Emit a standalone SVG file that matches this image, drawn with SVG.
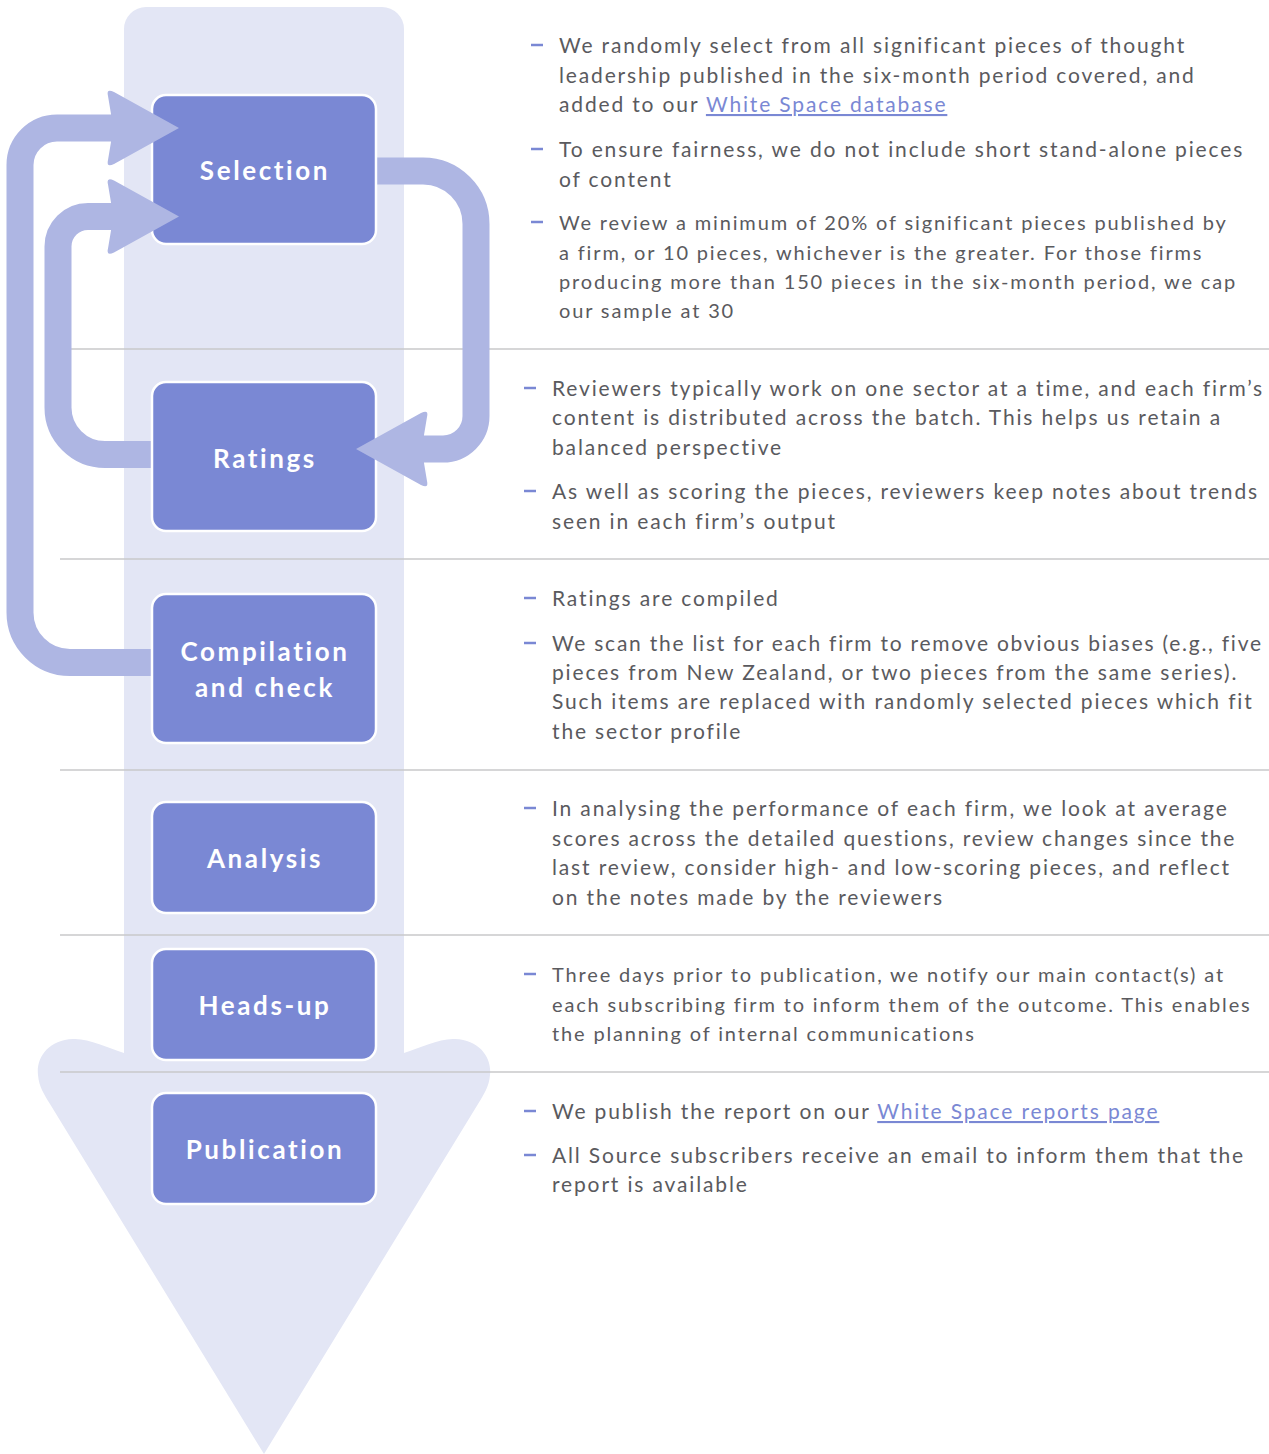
<svg xmlns="http://www.w3.org/2000/svg" xmlns:xlink="http://www.w3.org/1999/xlink" width="1269" height="1454" viewBox="0 0 1269 1454">
<style>
.col{fill:#E3E6F5}
.sep{stroke:#C8C8CA;stroke-width:1.5;fill:none}
.conn{fill:none;stroke:#AEB6E3;stroke-width:27}
.ah{fill:#AEB6E3}
.box{fill:#7A88D4;stroke:#FFFFFF;stroke-width:2.5}
.lbl{font-family:Lato,"Liberation Sans",sans-serif;font-weight:700;font-size:26px;letter-spacing:2.6px;fill:#FFFFFF;text-anchor:middle}
.txt{font-family:Lato,"Liberation Sans",sans-serif;font-size:21px;letter-spacing:1.85px;fill:#5A5A5E}
.sm{font-size:20px}
.lnk{fill:#7A88D4;text-decoration:underline}
.dash{stroke:#7A88D4;stroke-width:2.5}
</style>
<defs>
<path id="arrowhead" d="M0 0 L-65 -36 Q-73 -40 -71 -32 L-68 -14 L-68 14 L-71 32 Q-73 40 -65 36 Z"/>
</defs>
<rect width="1269" height="1454" fill="#FFFFFF"/>
<g id="background">
<path class="col" d="M124 1053 V29 A22 22 0 0 1 146 7 H382 A22 22 0 0 1 404 29 V1053 C420 1048 440 1038 455 1039 C480 1040 492 1058 490 1075 C489 1087 484 1094 478 1104 L264 1454 L50 1104 C44 1094 39 1087 38 1075 C36 1058 48 1040 73 1039 C88 1038 108 1048 124 1053 Z"/>
</g>
<g id="separators">
<line class="sep" x1="60" y1="349" x2="1269" y2="349"/>
<line class="sep" x1="60" y1="559" x2="1269" y2="559"/>
<line class="sep" x1="60" y1="770" x2="1269" y2="770"/>
<line class="sep" x1="60" y1="935" x2="1269" y2="935"/>
<line class="sep" x1="60" y1="1072" x2="1269" y2="1072"/>
</g>
<g id="node-selection">
<rect class="box" x="152" y="95" width="224" height="149" rx="14"/>
<text class="lbl" x="265" y="180">Selection</text>
</g>
<g id="node-ratings">
<rect class="box" x="152" y="382" width="224" height="149" rx="14"/>
<text class="lbl" x="265" y="468">Ratings</text>
</g>
<g id="node-compilation">
<rect class="box" x="152" y="594" width="224" height="149" rx="14"/>
<text class="lbl" x="265" y="661">Compilation</text>
<text class="lbl" x="265" y="697">and check</text>
</g>
<g id="node-analysis">
<rect class="box" x="152" y="802" width="224" height="111" rx="14"/>
<text class="lbl" x="265" y="868">Analysis</text>
</g>
<g id="node-headsup">
<rect class="box" x="152" y="949" width="224" height="111" rx="14"/>
<text class="lbl" x="265" y="1015">Heads-up</text>
</g>
<g id="node-publication">
<rect class="box" x="152" y="1093" width="224" height="111" rx="14"/>
<text class="lbl" x="265" y="1159">Publication</text>
</g>
<g id="connectors">
<path class="conn" d="M377.3 171 H423 A53 53 0 0 1 476 224 V416 A33 33 0 0 1 443 449 H420"/>
<use href="#arrowhead" class="ah" transform="translate(356 449) rotate(180)"/>
<path class="conn" d="M150.7 454.5 H105 A47 47 0 0 1 58 407.5 V246.5 A30 30 0 0 1 88 216.5 H116"/>
<use href="#arrowhead" class="ah" transform="translate(179 216.5)"/>
<path class="conn" d="M150.7 662.5 H70 A50 50 0 0 1 20 612.5 V165 A37 37 0 0 1 57 128 H116"/>
<use href="#arrowhead" class="ah" transform="translate(179 128)"/>
</g>
<g id="notes">
<line class="dash" x1="531" y1="45" x2="543" y2="45"/>
<text class="txt" x="559" y="53">We randomly select from all significant pieces of thought</text>
<text class="txt" x="559" y="83">leadership published in the six-month period covered, and</text>
<text class="txt" x="559" y="112">added to our <tspan class="lnk">White Space database</tspan></text>
<line class="dash" x1="531" y1="149" x2="543" y2="149"/>
<text class="txt" x="559" y="157">To ensure fairness, we do not include short stand-alone pieces</text>
<text class="txt" x="559" y="187">of content</text>
<line class="dash" x1="531" y1="222" x2="543" y2="222"/>
<text class="txt sm" x="559" y="230">We review a minimum of 20% of significant pieces published by</text>
<text class="txt sm" x="559" y="260">a firm, or 10 pieces, whichever is the greater. For those firms</text>
<text class="txt sm" x="559" y="289">producing more than 150 pieces in the six-month period, we cap</text>
<text class="txt sm" x="559" y="318">our sample at 30</text>

<line class="dash" x1="524" y1="388" x2="536" y2="388"/>
<text class="txt" x="552" y="396">Reviewers typically work on one sector at a time, and each firm’s</text>
<text class="txt" x="552" y="425">content is distributed across the batch. This helps us retain a</text>
<text class="txt" x="552" y="455">balanced perspective</text>
<line class="dash" x1="524" y1="491" x2="536" y2="491"/>
<text class="txt" x="552" y="499">As well as scoring the pieces, reviewers keep notes about trends</text>
<text class="txt" x="552" y="529">seen in each firm’s output</text>

<line class="dash" x1="524" y1="598" x2="536" y2="598"/>
<text class="txt" x="552" y="606">Ratings are compiled</text>
<line class="dash" x1="524" y1="643" x2="536" y2="643"/>
<text class="txt" x="552" y="651" style="letter-spacing:1.75px">We scan the list for each firm to remove obvious biases (e.g., five</text>
<text class="txt" x="552" y="680">pieces from New Zealand, or two pieces from the same series).</text>
<text class="txt" x="552" y="709">Such items are replaced with randomly selected pieces which fit</text>
<text class="txt" x="552" y="739">the sector profile</text>

<line class="dash" x1="524" y1="808" x2="536" y2="808"/>
<text class="txt" x="552" y="816">In analysing the performance of each firm, we look at average</text>
<text class="txt" x="552" y="846">scores across the detailed questions, review changes since the</text>
<text class="txt" x="552" y="875">last review, consider high- and low-scoring pieces, and reflect</text>
<text class="txt" x="552" y="905">on the notes made by the reviewers</text>

<line class="dash" x1="524" y1="974" x2="536" y2="974"/>
<text class="txt sm" x="552" y="982">Three days prior to publication, we notify our main contact(s) at</text>
<text class="txt sm" x="552" y="1012">each subscribing firm to inform them of the outcome. This enables</text>
<text class="txt sm" x="552" y="1041">the planning of internal communications</text>

<line class="dash" x1="524" y1="1111" x2="536" y2="1111"/>
<text class="txt" x="552" y="1119">We publish the report on our <tspan class="lnk">White Space reports page</tspan></text>
<line class="dash" x1="524" y1="1155" x2="536" y2="1155"/>
<text class="txt" x="552" y="1163">All Source subscribers receive an email to inform them that the</text>
<text class="txt" x="552" y="1192">report is available</text>
</g>
</svg>
